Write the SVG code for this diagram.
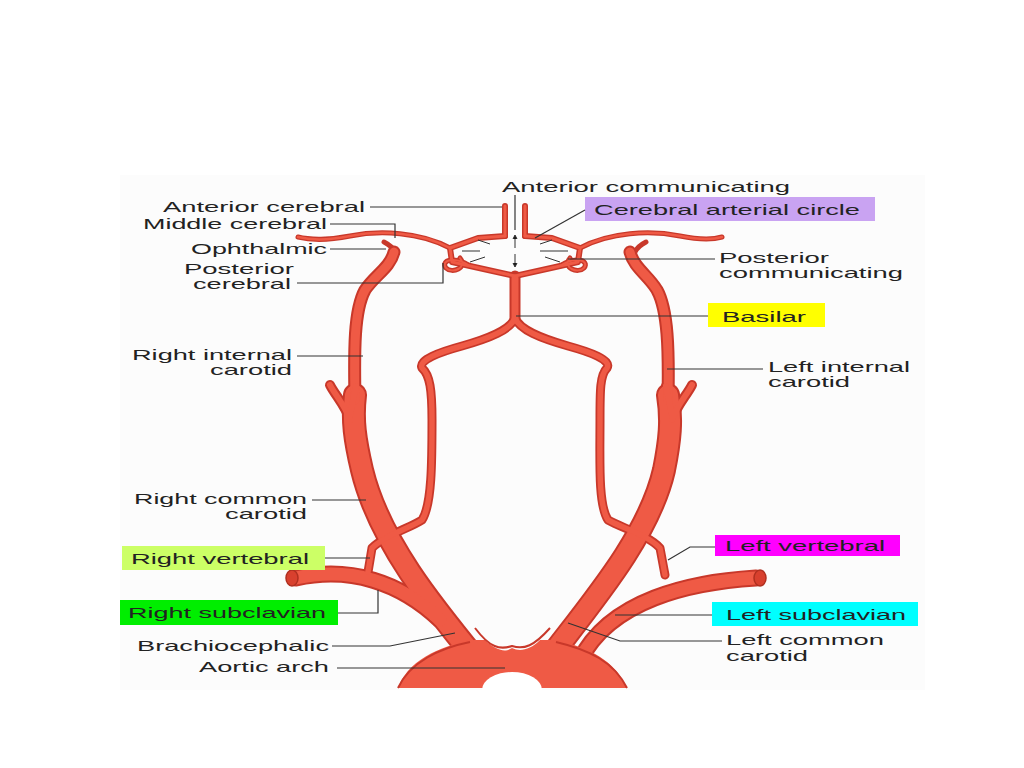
<svg xmlns="http://www.w3.org/2000/svg" width="1024" height="768" viewBox="0 0 1024 768">
<style>
.o{fill:none;stroke:#c8382a;stroke-linecap:round;stroke-linejoin:round}
.i{fill:none;stroke:#ef5a45;stroke-linecap:round;stroke-linejoin:round}
.t{font-family:"Liberation Sans",Arial,sans-serif;font-size:15px;fill:#222}
.l{fill:none;stroke:#333;stroke-width:1.2}
</style>
<rect width="1024" height="768" fill="#fff"/>
<rect x="120" y="175" width="805" height="515" fill="#fcfcfc"/>
<g id="vessels">
<g id="v-outer" class="o">
<path d="M485,670 C440,615 380,545 362,470 C355,440 352,420 355,395" stroke-width="24"/>
<path d="M540,670 C585,610 648,540 664,470 C670,440 672,420 668,395" stroke-width="24"/>
<path d="M440,620 C400,582 350,566 296,578" stroke-width="17"/>
<path d="M580,660 C610,600 690,582 756,578" stroke-width="17"/>
<path d="M355,400 C354,350 354,310 365,290 C375,275 390,268 394,252" stroke-width="13"/>
<path d="M668,400 C669,350 668,310 657,290 C648,275 634,268 630,252" stroke-width="13"/>
<path d="M350,420 C345,405 335,395 330,385 M350,415 L356,386" stroke-width="10"/>
<path d="M672,420 C677,405 687,395 692,385 M672,415 L666,386" stroke-width="10"/>
<path d="M368,572 L372,548 C385,535 410,528 422,520 C432,505 432,460 432,420 C432,390 430,375 422,368 C418,360 440,352 462,346 C490,338 510,330 515,318" stroke-width="9"/>
<path d="M665,575 L660,548 C648,535 622,528 608,520 C598,505 600,460 600,420 C600,390 600,375 607,368 C612,360 590,352 568,346 C540,338 520,330 515,318" stroke-width="9"/>
<path d="M515,320 L515,276" stroke-width="11"/>
<path d="M505,206 L505,236 M525,206 L525,236" stroke-width="6"/>
<path d="M505,236 L478,238 L450,248 L452,262 L488,270 L515,276 L542,270 L578,262 L580,248 L552,238 L525,236" stroke-width="6"/>
<path d="M450,248 C420,232 380,230 350,236 C330,240 310,240 298,237" stroke-width="5"/>
<path d="M580,248 C610,232 650,230 680,236 C700,240 712,240 722,237" stroke-width="5"/>
<path d="M470,266 C455,256 440,260 446,268 C452,274 468,268 460,258" stroke-width="5"/>
<path d="M560,266 C575,256 590,260 584,268 C578,274 562,268 570,258" stroke-width="5"/>
<path d="M395,252 C392,246 388,244 384,242 M635,252 C638,246 642,244 646,242" stroke-width="5"/>
</g>
<g id="v-inner" class="i">
<path d="M485,670 C440,615 380,545 362,470 C355,440 352,420 355,395" stroke-width="20"/>
<path d="M540,670 C585,610 648,540 664,470 C670,440 672,420 668,395" stroke-width="20"/>
<path d="M440,620 C400,582 350,566 296,578" stroke-width="13"/>
<path d="M580,660 C610,600 690,582 756,578" stroke-width="13"/>
<path d="M355,400 C354,350 354,310 365,290 C375,275 390,268 394,252" stroke-width="9"/>
<path d="M668,400 C669,350 668,310 657,290 C648,275 634,268 630,252" stroke-width="9"/>
<path d="M350,420 C345,405 335,395 330,385 M350,415 L356,386" stroke-width="6"/>
<path d="M672,420 C677,405 687,395 692,385 M672,415 L666,386" stroke-width="6"/>
<path d="M368,572 L372,548 C385,535 410,528 422,520 C432,505 432,460 432,420 C432,390 430,375 422,368 C418,360 440,352 462,346 C490,338 510,330 515,318" stroke-width="5.5"/>
<path d="M665,575 L660,548 C648,535 622,528 608,520 C598,505 600,460 600,420 C600,390 600,375 607,368 C612,360 590,352 568,346 C540,338 520,330 515,318" stroke-width="5.5"/>
<path d="M515,320 L515,278" stroke-width="7"/>
<path d="M505,206 L505,236 M525,206 L525,236" stroke-width="3"/>
<path d="M505,236 L478,238 L450,248 L452,262 L488,270 L515,276 L542,270 L578,262 L580,248 L552,238 L525,236" stroke-width="3"/>
<path d="M450,248 C420,232 380,230 350,236 C330,240 310,240 298,237" stroke-width="2.5"/>
<path d="M580,248 C610,232 650,230 680,236 C700,240 712,240 722,237" stroke-width="2.5"/>
<path d="M470,266 C455,256 440,260 446,268 C452,274 468,268 460,258" stroke-width="2"/>
<path d="M560,266 C575,256 590,260 584,268 C578,274 562,268 570,258" stroke-width="2"/>
</g>
<path d="M398,688 C410,655 450,645 470,640 L485,640 C498,652 506,652 512,648 C520,652 530,650 540,640 L556,640 C590,648 614,660 627,688 Z" fill="#ef5a45"/>
<path d="M475,628 C490,648 500,650 512,646 C524,650 534,646 550,628" fill="none" stroke="#c8382a" stroke-width="2"/>
<path d="M398,688 C410,662 440,648 470,642 M556,642 C590,650 614,662 627,688" fill="none" stroke="#c8382a" stroke-width="2"/>
<path d="M482,690 A30,18 0 0 1 542,690 Z" fill="#fff"/>
<ellipse cx="292" cy="578" rx="6" ry="8" fill="#d8402e" stroke="#b03020" stroke-width="1.5"/>
<ellipse cx="760" cy="578" rx="6" ry="8" fill="#d8402e" stroke="#b03020" stroke-width="1.5"/>
<g stroke="#333" stroke-width="1">
<path d="M515,248 V236 M513,239 L515,235 L517,239"/>
<path d="M515,254 V266 M513,263 L515,267 L517,263"/>
<path d="M480,251 L462,251 M485,257 L470,262 M540,251 L568,251 M545,257 L560,262 M490,244 L478,240 M540,244 L552,240"/>
</g>
</g>
<g id="labels">
<rect x="585" y="197" width="290" height="24" fill="#c9a3f2"/>
<rect x="708" y="303" width="117" height="24" fill="#ffff00"/>
<rect x="122" y="546" width="203" height="24" fill="#ccff66"/>
<rect x="715" y="535" width="185" height="21" fill="#ff00ff"/>
<rect x="120" y="600" width="218" height="25" fill="#00ee00"/>
<rect x="712" y="602" width="206" height="24" fill="#00ffff"/>
<text class="t" x="502" y="192" textLength="288" lengthAdjust="spacingAndGlyphs">Anterior communicating</text>
<text class="t" x="163" y="212" textLength="202" lengthAdjust="spacingAndGlyphs">Anterior cerebral</text>
<text class="t" x="594" y="215" textLength="266" lengthAdjust="spacingAndGlyphs">Cerebral arterial circle</text>
<text class="t" x="143" y="229" textLength="184" lengthAdjust="spacingAndGlyphs">Middle cerebral</text>
<text class="t" x="191" y="254" textLength="136" lengthAdjust="spacingAndGlyphs">Ophthalmic</text>
<text class="t" x="184" y="274" textLength="110" lengthAdjust="spacingAndGlyphs">Posterior</text>
<text class="t" x="193" y="289" textLength="98" lengthAdjust="spacingAndGlyphs">cerebral</text>
<text class="t" x="719" y="263" textLength="110" lengthAdjust="spacingAndGlyphs">Posterior</text>
<text class="t" x="719" y="278" textLength="184" lengthAdjust="spacingAndGlyphs">communicating</text>
<text class="t" x="722" y="322" textLength="84" lengthAdjust="spacingAndGlyphs">Basilar</text>
<text class="t" x="132" y="360" textLength="160" lengthAdjust="spacingAndGlyphs">Right internal</text>
<text class="t" x="210" y="375" textLength="82" lengthAdjust="spacingAndGlyphs">carotid</text>
<text class="t" x="768" y="372" textLength="142" lengthAdjust="spacingAndGlyphs">Left internal</text>
<text class="t" x="768" y="387" textLength="82" lengthAdjust="spacingAndGlyphs">carotid</text>
<text class="t" x="134" y="504" textLength="173" lengthAdjust="spacingAndGlyphs">Right common</text>
<text class="t" x="225" y="519" textLength="82" lengthAdjust="spacingAndGlyphs">carotid</text>
<text class="t" x="131" y="564" textLength="178" lengthAdjust="spacingAndGlyphs">Right vertebral</text>
<text class="t" x="725" y="551" textLength="160" lengthAdjust="spacingAndGlyphs">Left vertebral</text>
<text class="t" x="128" y="618" textLength="198" lengthAdjust="spacingAndGlyphs">Right subclavian</text>
<text class="t" x="726" y="620" textLength="180" lengthAdjust="spacingAndGlyphs">Left subclavian</text>
<text class="t" x="137" y="651" textLength="192" lengthAdjust="spacingAndGlyphs">Brachiocephalic</text>
<text class="t" x="726" y="645" textLength="158" lengthAdjust="spacingAndGlyphs">Left common</text>
<text class="t" x="726" y="661" textLength="82" lengthAdjust="spacingAndGlyphs">carotid</text>
<text class="t" x="199" y="672" textLength="130" lengthAdjust="spacingAndGlyphs">Aortic arch</text>
</g>
<g id="connectors" class="l">
<path d="M515,195 V230"/>
<path d="M370,207 H502"/>
<path d="M585,210 L535,238"/>
<path d="M330,224 H395 V238"/>
<path d="M330,249 H386"/>
<path d="M297,283 H443 V263"/>
<path d="M715,259 H568"/>
<path d="M708,316 H516"/>
<path d="M297,356 H363"/>
<path d="M763,369 H667"/>
<path d="M312,500 H366"/>
<path d="M325,558 H370"/>
<path d="M715,547 H690 L668,560"/>
<path d="M338,613 H378 V590"/>
<path d="M712,615 H615"/>
<path d="M332,646 H390 L455,633"/>
<path d="M722,641 H620 L568,623"/>
<path d="M337,668 H505"/>
</g>
</svg>
